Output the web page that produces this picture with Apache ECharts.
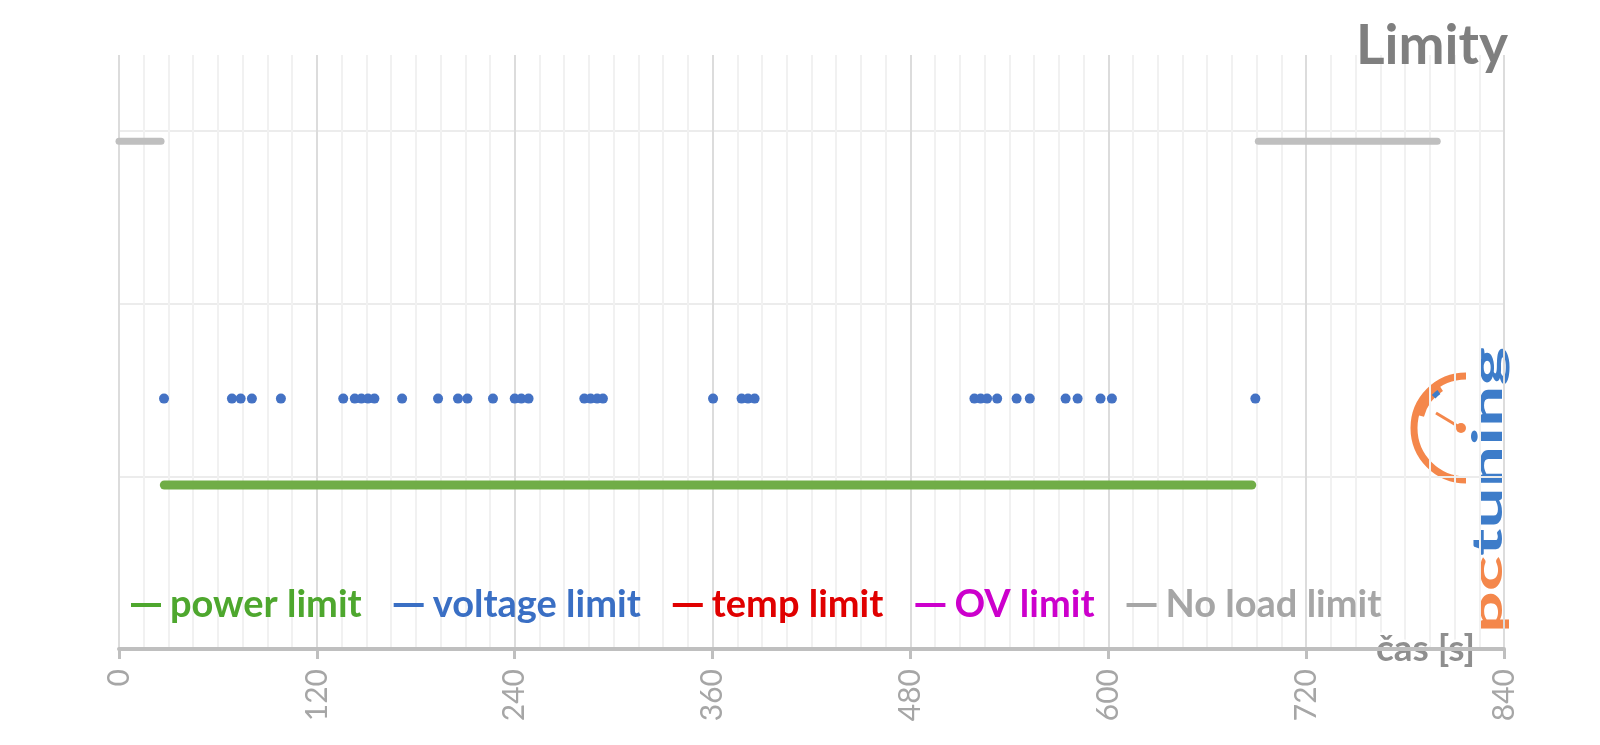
<!DOCTYPE html>
<html>
<head>
<meta charset="utf-8">
<script src="https://cdn.jsdelivr.net/npm/echarts@6/dist/echarts.min.js"></script>
<style>
html,body{margin:0;padding:0;background:#fff;}
#chart{width:1600px;height:745px;}
</style>
</head>
<body>
<div id="chart"></div>
<script>
// ---- data ----
const chartTitle = 'Limity';
const xAxisName = 'čas [s]';
const timeMin = 0, timeMax = 840, timeStep = 120;
const seriesNames = ['power limit', 'voltage limit', 'temp limit', 'OV limit', 'No load limit'];

const powerLevel = 0.95;
const powerTimes = [27.5, 687];

const voltageLevel = 1.45;
const voltageTimes = [27.3, 68.5, 73.8, 80.6, 98.2, 136, 143, 147, 151, 154.9, 171.7, 193.5,
  205.6, 211.3, 226.8, 240, 244, 248.4, 282.2, 286, 290, 293.5, 360.3, 377.6, 381.5, 385.5,
  518.8, 522.6, 526.5, 532.6, 544.4, 552.4, 574.1, 581.4, 595.3, 602.2, 689.2];

const tempTimes = [];
const ovTimes = [];

const noLoadLevel = 2.94;
const noLoadTimesA = [0, 25.5];
const noLoadTimesB = [691, 799.5];

// ---- build ----
const toPts = (times, lvl) => times.map(t => [t, lvl]);

const chart = echarts.init(document.getElementById('chart'), null, {renderer: 'canvas'});
const FONT = 'Lato, "Open Sans", sans-serif';
const orange = '#f4874b', logoBlue = '#3d7cc9';

const lineSeries = (name, data, color, width) => ({
  name, type: 'line', data, symbol: 'none', showSymbol: false,
  itemStyle: {color},
  lineStyle: {color, width, cap: 'round'},
  animation: false, silent: true
});

const legendText = (color) => ({color, padding: [0, 0, 0, 4]});

chart.setOption({
  backgroundColor: '#ffffff',
  animation: false,
  title: {
    text: chartTitle, right: 92, top: 19, padding: 0,
    textStyle: {fontFamily: FONT, fontWeight: 'bold', fontSize: 55, color: '#7f7f7f'}
  },
  grid: {left: 119, right: 96, top: 55, bottom: 96, containLabel: false},
  legend: {
    left: 126, top: 581, icon: 'rect', itemWidth: 30, itemHeight: 4, itemGap: 32,
    textStyle: {fontFamily: FONT, fontWeight: 'bold', fontSize: 38},
    data: [
      {name: seriesNames[0], itemStyle: {color: '#4ea72e'}, textStyle: legendText('#4ea72e')},
      {name: seriesNames[1], itemStyle: {color: '#3a6fc4'}, textStyle: legendText('#3a6fc4')},
      {name: seriesNames[2], itemStyle: {color: '#e00000'}, textStyle: legendText('#e00000')},
      {name: seriesNames[3], itemStyle: {color: '#cc00cc'}, textStyle: legendText('#cc00cc')},
      {name: seriesNames[4], itemStyle: {color: '#a6a6a6'}, textStyle: legendText('#a6a6a6')}
    ]
  },
  xAxis: {
    type: 'value', min: timeMin, max: timeMax, interval: timeStep,
    name: xAxisName, nameLocation: 'end', nameGap: -128,
    nameTextStyle: {fontFamily: FONT, fontWeight: 'bold', fontSize: 37, color: '#8f8f8f',
      textBorderColor: '#ffffff', textBorderWidth: 5, verticalAlign: 'middle', align: 'left',
      padding: [0, 0, 6, 0]},
    axisLine: {show: true, onZero: false, lineStyle: {color: '#bfbfbf', width: 4}},
    axisTick: {show: true, length: 10, lineStyle: {color: '#bfbfbf', width: 3}},
    axisLabel: {rotate: 90, margin: 20, fontFamily: FONT, fontSize: 30, color: '#a6a6a6'},
    splitLine: {show: true, lineStyle: {color: '#dcdcdc', width: 2}},
    minorTick: {show: false, splitNumber: 8},
    minorSplitLine: {show: true, lineStyle: {color: '#f1f1f1', width: 2}}
  },
  yAxis: {
    type: 'value', min: 0, max: 3.44, interval: 1,
    axisLine: {show: false}, axisTick: {show: false}, axisLabel: {show: false},
    splitLine: {show: true, lineStyle: {color: ['rgba(0,0,0,0)', '#ececec', '#ececec', '#ececec', 'rgba(0,0,0,0)'], width: 2}}
  },
  series: [
    lineSeries(seriesNames[0], toPts(powerTimes, powerLevel), '#70ad47', 9),
    {
      name: seriesNames[1], type: 'scatter', data: toPts(voltageTimes, voltageLevel),
      symbol: 'circle', symbolSize: 10, itemStyle: {color: '#4472c4', opacity: 1}, silent: true
    },
    lineSeries(seriesNames[2], toPts(tempTimes, 0), '#e00000', 5),
    lineSeries(seriesNames[3], toPts(ovTimes, 0), '#cc00cc', 5),
    lineSeries(seriesNames[4], toPts(noLoadTimesA, noLoadLevel), '#bfbfbf', 7),
    lineSeries(seriesNames[4], toPts(noLoadTimesB, noLoadLevel), '#bfbfbf', 7)
  ],
  graphic: [
    {type: 'arc', shape: {cx: 1466, cy: 428, r: 52, startAngle: Math.PI / 2, endAngle: Math.PI * 1.5, clockwise: true},
      style: {stroke: orange, lineWidth: 7, fill: null}, silent: true},
    {type: 'arc', shape: {cx: 1466, cy: 428, r: 47, startAngle: Math.PI * 195 / 180, endAngle: Math.PI * 238 / 180, clockwise: true},
      style: {stroke: orange, lineWidth: 7, fill: null}, silent: true},
    {type: 'arc', shape: {cx: 1466, cy: 428, r: 45, startAngle: Math.PI * 224 / 180, endAngle: Math.PI * 233 / 180, clockwise: true},
      style: {stroke: logoBlue, lineWidth: 5, fill: null}, silent: true},
    {type: 'line', shape: {x1: 1461, y1: 428, x2: 1436, y2: 413}, style: {stroke: orange, lineWidth: 3}, silent: true},
    {type: 'circle', shape: {cx: 1461, cy: 428, r: 5}, style: {fill: orange}, silent: true},
    {type: 'text', x: 1509, y: 633, rotation: Math.PI / 2, scaleX: 1.75,
      style: {text: 'pc', fill: orange, font: 'bold 42px ' + FONT, align: 'left', verticalAlign: 'bottom'}, silent: true},
    {type: 'text', x: 1509, y: 556, rotation: Math.PI / 2, scaleX: 1.75,
      style: {text: 'tuning', fill: logoBlue, font: 'bold 42px ' + FONT, align: 'left', verticalAlign: 'bottom'}, silent: true}
  ]
});
</script>
</body>
</html>
